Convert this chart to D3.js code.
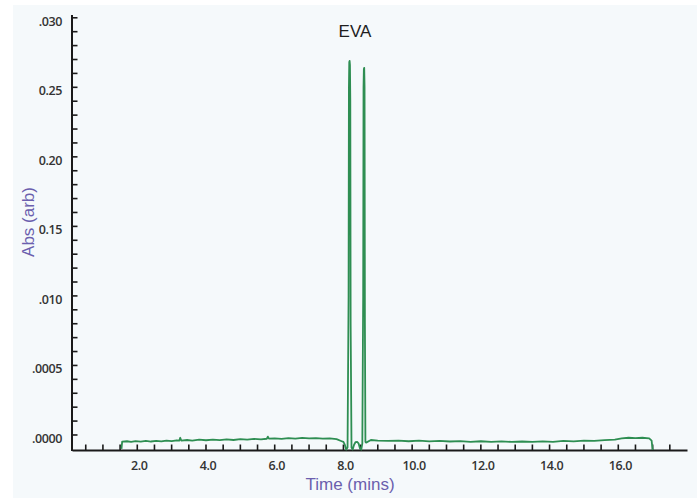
<!DOCTYPE html>
<html><head><meta charset="utf-8">
<script src="https://cdn.jsdelivr.net/npm/d3@7"></script>
<style>html,body{margin:0;padding:0;background:#fff;} svg{display:block;}</style>
</head><body><svg id="c" width="697" height="498"></svg>
<script>
// ---- data ----
const times = [1.54,1.56,1.70,1.82,1.95,2.10,2.25,2.40,2.55,2.70,2.85,3.00,3.15,3.22,3.25,3.28,3.45,3.60,3.80,4.00,4.20,4.40,4.60,4.80,5.00,5.20,5.40,5.60,5.77,5.80,5.83,6.00,6.20,6.40,6.60,6.80,7.00,7.20,7.40,7.60,7.80,7.95,8.00,8.04,8.08,8.12,8.15,8.16,8.17,8.18,8.19,8.20,8.21,8.235,8.27,8.31,8.35,8.40,8.44,8.48,8.52,8.55,8.575,8.585,8.595,8.605,8.615,8.625,8.64,8.66,8.80,9.00,9.30,9.60,9.90,10.20,10.50,10.80,11.10,11.40,11.70,12.00,12.30,12.60,12.90,13.20,13.50,13.80,14.10,14.40,14.70,15.00,15.30,15.60,15.90,16.10,16.30,16.50,16.70,16.90,16.97,17.00];
const absValues = [-0.00100,-0.00048,-0.00045,-0.00050,-0.00044,-0.00048,-0.00042,-0.00047,-0.00043,-0.00046,-0.00040,-0.00044,-0.00038,-0.00041,-0.00020,-0.00040,-0.00036,-0.00040,-0.00034,-0.00038,-0.00033,-0.00037,-0.00032,-0.00036,-0.00030,-0.00034,-0.00028,-0.00031,-0.00027,-0.00012,-0.00026,-0.00024,-0.00028,-0.00022,-0.00026,-0.00021,-0.00025,-0.00022,-0.00026,-0.00024,-0.00030,-0.00045,-0.00050,-0.00070,-0.00105,-0.00090,0.0100,0.0250,0.02682,0.02690,0.02660,0.0240,0.0080,-0.00090,-0.00105,-0.00070,-0.00052,-0.00050,-0.00060,-0.00095,-0.00105,-0.00060,0.0100,0.0250,0.02632,0.02640,0.0250,0.0080,-0.00050,-0.00055,-0.00036,-0.00040,-0.00043,-0.00040,-0.00045,-0.00041,-0.00046,-0.00042,-0.00047,-0.00044,-0.00049,-0.00045,-0.00050,-0.00046,-0.00050,-0.00047,-0.00050,-0.00046,-0.00049,-0.00043,-0.00046,-0.00040,-0.00043,-0.00037,-0.00033,-0.00024,-0.00020,-0.00022,-0.00020,-0.00024,-0.00040,-0.00108];
const yTickValues = [0, 0.005, 0.010, 0.015, 0.020, 0.025, 0.030];
const yTickLabels = [".0000", ".0005", ".010", "0.15", "0.20", "0.25", ".030"];
const xLabelValues = [2, 4, 6, 8, 10, 12, 14, 16];
const xTickLabels = ["2.0", "4.0", "6.0", "8.0", "10.0", "12.0", "14.0", "16.0"];
const titleText = "EVA";
const xTitle = "Time (mins)";
const yTitle = "Abs (arb)";

// ---- drawing ----
const svg = d3.select("#c");
svg.append("rect").attr("x", 13).attr("y", 5).attr("width", 684).attr("height", 493).attr("fill", "#f5f9fb");

const x = d3.scaleLinear().domain([0.1, 18]).range([72, 687]);
const y = d3.scaleLinear().domain([-0.00108, 0.0302]).range([450, 15]);

const fontTick = "'Open Sans', 'Noto Sans', sans-serif";
const fontTitle = "'Liberation Sans', Arial, sans-serif";

// x axis
const xMinor = d3.range(0.5, 17.51, 0.5);
const xAxis = d3.axisBottom(x).tickValues(xMinor).tickSize(0).tickFormat("");
const gx = svg.append("g").attr("transform", "translate(0,450)").call(xAxis);
gx.select(".domain").attr("stroke", "#1a1a1a").attr("stroke-width", 2);
svg.append("g").selectAll("line").data(xMinor).join("line")
  .attr("x1", d => x(d)).attr("x2", d => x(d)).attr("y1", 450).attr("y2", 444.5)
  .attr("stroke", "#1a1a1a").attr("stroke-width", 1.6);
svg.append("g").selectAll("text").data(xLabelValues).join("text")
  .attr("x", d => x(d) + 2).attr("y", 469.5)
  .attr("text-anchor", "middle").attr("font-family", fontTick).attr("font-size", 12.5)
  .attr("font-weight", 600).attr("fill", "#333").attr("letter-spacing", -0.4)
  .text((d, i) => xTickLabels[i]);

// y axis
const yMinor = d3.range(0, 0.03001, 0.001);
svg.append("line").attr("x1", 72).attr("x2", 72).attr("y1", y(0.0302)).attr("y2", 451)
  .attr("stroke", "#1a1a1a").attr("stroke-width", 2);
svg.append("g").selectAll("line").data(yMinor).join("line")
  .attr("x1", 72).attr("x2", 77.5).attr("y1", d => y(d)).attr("y2", d => y(d))
  .attr("stroke", "#1a1a1a").attr("stroke-width", 1.6);
svg.append("g").selectAll("text").data(yTickValues).join("text")
  .attr("x", 62).attr("y", d => y(d) + 8)
  .attr("text-anchor", "end").attr("font-family", fontTick).attr("font-size", 12.5)
  .attr("font-weight", 600).attr("fill", "#333").attr("letter-spacing", -0.4)
  .text((d, i) => yTickLabels[i]);

// trace
const data = times.map((t, i) => ({t, v: absValues[i]}));
const line = d3.line().x(d => x(d.t)).y(d => y(d.v));
svg.append("path").datum(data).attr("d", line)
  .attr("fill", "none").attr("stroke", "#2e8e52").attr("stroke-width", 1.8)
  .attr("stroke-linejoin", "round");

// titles
svg.append("text").attr("x", 355).attr("y", 37).attr("text-anchor", "middle")
  .attr("font-family", fontTitle).attr("font-size", 17).attr("fill", "#1e1e1e").text(titleText);
svg.append("text").attr("x", 350).attr("y", 490).attr("text-anchor", "middle")
  .attr("font-family", fontTitle).attr("font-size", 17).attr("fill", "#6b5fae").text(xTitle);
svg.append("text").attr("transform", "translate(34,222) rotate(-90)").attr("text-anchor", "middle")
  .attr("font-family", fontTitle).attr("font-size", 17).attr("fill", "#6b5fae").text(yTitle);
</script>
</body></html>
